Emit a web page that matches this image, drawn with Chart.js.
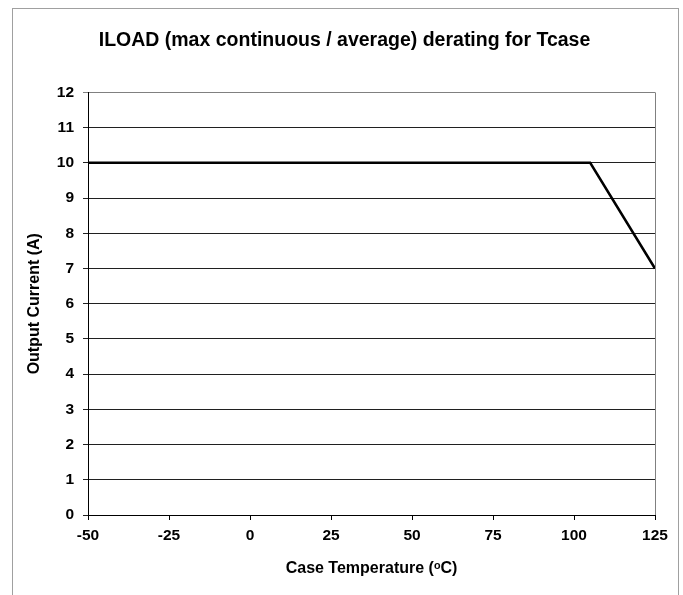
<!DOCTYPE html>
<html>
<head>
<meta charset="utf-8">
<script src="https://cdn.jsdelivr.net/npm/chart.js@4"></script>
<style>
  html, body { margin: 0; padding: 0; background: #fff; }
  #wrap { width: 683px; height: 595px; }
</style>
</head>
<body>
<div id="wrap"><canvas id="chart" width="683" height="595"></canvas></div>
<script>
// Data
const tempPoints = [-50, 105, 125];
const currentPoints = [10, 10, 7];
const xTicks = [-50, -25, 0, 25, 50, 75, 100, 125];
const yTicks = [0, 1, 2, 3, 4, 5, 6, 7, 8, 9, 10, 11, 12];

const FONT = "'Liberation Sans', Arial, 'DejaVu Sans', sans-serif";

// outer frame + right plot border
const framePlugin = {
    id: 'frame',
    beforeDraw(chart) {
        const ctx = chart.ctx;
        ctx.save();
        ctx.fillStyle = '#fff';
        ctx.fillRect(0, 0, chart.width, chart.height);
        ctx.strokeStyle = '#a0a0a0';
        ctx.lineWidth = 1;
        ctx.strokeRect(12.5, 8.5, 666, 600);
        ctx.restore();
    },
    afterDraw(chart) {
        const a = chart.chartArea;
        const ctx = chart.ctx;
        ctx.save();
        ctx.strokeStyle = '#808080';
        ctx.lineWidth = 1;
        ctx.beginPath();
        ctx.moveTo(Math.round(a.right) + 0.5, a.top);
        ctx.lineTo(Math.round(a.right) + 0.5, a.bottom);
        ctx.stroke();
        ctx.restore();
    }
};

const ctx = document.getElementById('chart').getContext('2d');
const chart = new Chart(ctx, {
    type: 'scatter',
    data: {
        datasets: [{
            data: tempPoints.map((t, i) => ({ x: t, y: currentPoints[i] })),
            showLine: true,
            borderColor: '#000',
            borderWidth: 2.5,
            pointRadius: 0,
            fill: false,
            tension: 0
        }]
    },
    options: {
        responsive: false,
        animation: false,
        layout: { padding: { left: 6, right: 0, top: 0, bottom: 0 } },
        plugins: {
            legend: { display: false },
            tooltip: { enabled: false },
            title: {
                display: true,
                text: 'ILOAD (max continuous / average) derating for Tcase',
                color: '#000',
                font: { family: FONT, size: 19.5, weight: 'bold' },
                padding: { top: 29, bottom: 40 }
            }
        },
        scales: {
            x: {
                type: 'linear',
                min: -50,
                max: 125,
                afterBuildTicks(scale) { scale.ticks = xTicks.map(v => ({ value: v })); },
                afterFit(scale) { scale.height = 80; },
                grid: { drawOnChartArea: false, drawTicks: true, tickLength: 5, color: '#000' },
                border: { display: true, color: '#000', width: 1 },
                ticks: {
                    color: '#000',
                    padding: 6,
                    maxRotation: 0,
                    autoSkip: false,
                    font: { family: FONT, size: 15.5, weight: 'bold' }
                },
                title: {
                    display: true,
                    text: 'Case Temperature (ᵒC)',
                    color: '#000',
                    font: { family: FONT, size: 16, weight: 'bold' },
                    padding: { top: 0, bottom: 17 }
                }
            },
            y: {
                min: 0,
                max: 12,
                afterBuildTicks(scale) { scale.ticks = yTicks.map(v => ({ value: v })); },
                afterFit(scale) { scale.width = 82; },
                grid: {
                    drawTicks: true,
                    tickLength: 5,
                    color: (c) => (c.tick && c.tick.value === 12 ? '#808080' : '#202020'),
                    lineWidth: 1
                },
                border: { display: true, color: '#000', width: 1 },
                ticks: {
                    color: '#000',
                    padding: 9,
                    autoSkip: false,
                    font: { family: FONT, size: 15.5, weight: 'bold' }
                },
                title: {
                    display: true,
                    text: 'Output Current (A)',
                    color: '#000',
                    font: { family: FONT, size: 16, weight: 'bold' },
                    padding: { top: 19, bottom: 0 }
                }
            },
            // empty right-hand axis, only reserves the margin on the right
            yRight: {
                position: 'right',
                min: 0,
                max: 12,
                afterFit(scale) { scale.width = 28; },
                grid: { drawOnChartArea: false, drawTicks: false },
                border: { display: false },
                ticks: { display: false }
            }
        }
    },
    plugins: [framePlugin]
});
</script>
</body>
</html>
